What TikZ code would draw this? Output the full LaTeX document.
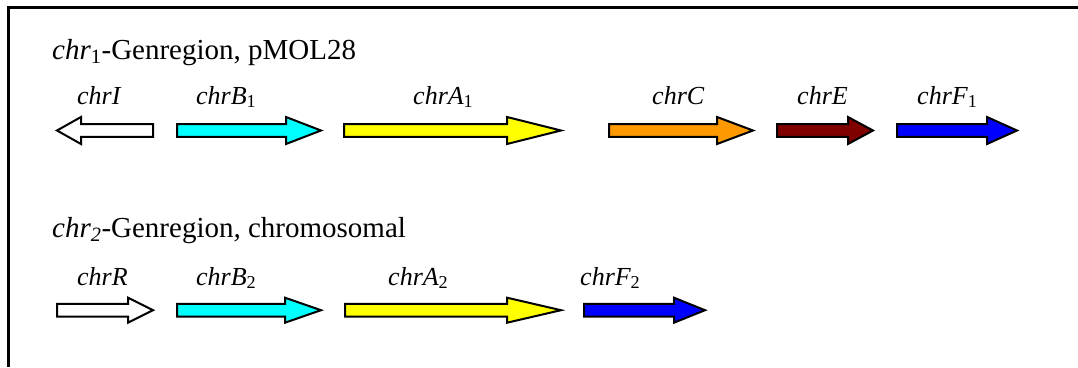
\documentclass[tikz,border=0pt]{standalone}
\usepackage{fontspec}
\setmainfont{Liberation Serif}
\definecolor{gcyan}{RGB}{0,255,255}
\definecolor{gyellow}{RGB}{255,255,0}
\definecolor{gorange}{RGB}{255,153,0}
\definecolor{gdred}{RGB}{128,0,0}
\definecolor{gblue}{RGB}{0,0,255}
\newcommand{\genearrow}[7]{% name, x-start, x-headbase, x-tip, y-centre, head half-height, colour
  \draw[genestyle, fill=#7] (#2,#5-6.3) -- (#3,#5-6.3) -- (#3,#5-#6) -- (#4,#5)
    -- (#3,#5+#6) -- (#3,#5+6.3) -- (#2,#5+6.3) -- cycle;
  \coordinate (#1) at (#2,#5);}
\begin{document}
\begin{tikzpicture}[x=1pt,y=-1pt,
  genestyle/.style={draw=black, line width=2pt, line join=miter},
  framestyle/.style={draw=black, line width=2.2pt},
  genelabel/.style={anchor=base west, inner sep=0pt, font=\fontsize{26}{30}\selectfont\itshape},
  heading/.style={anchor=base west, inner sep=0pt, font=\fontsize{29}{33}\selectfont}]
\useasboundingbox (0,0) rectangle (1078,367);
\coordinate (fTL) at (8.5,7.5);
\coordinate (fTR) at (1078,7.5);
\coordinate (fBL) at (8.5,367);
\draw[framestyle] (fTR) -- (fTL) -- (fBL);

% row 1
\node[heading] (h1) at (52,59) {\textit{chr}\textsubscript{1}-Genregion, pMOL28};
\node[genelabel] (lI) at (77,104) {chrI};
\node[genelabel] (lB1) at (196,104) {chrB\textsubscript{\upshape 1}};
\node[genelabel] (lA1) at (413,104) {chrA\textsubscript{\upshape 1}};
\node[genelabel] (lC) at (652,104) {chrC};
\node[genelabel] (lE) at (797,104) {chrE};
\node[genelabel] (lF1) at (917,104) {chrF\textsubscript{\upshape 1}};
\genearrow{gI}{153}{81}{57}{130.5}{13.5}{white}
\genearrow{gB1}{177}{286}{321}{130.5}{13.5}{gcyan}
\genearrow{gA1}{344}{507}{561}{130.5}{13.5}{gyellow}
\genearrow{gC}{609}{717}{753}{130.5}{13.5}{gorange}
\genearrow{gE}{777}{848}{873}{130.5}{13.5}{gdred}
\genearrow{gF1}{897}{987}{1017}{130.5}{13.5}{gblue}

% row 2
\node[heading] (h2) at (52,237) {\textit{chr\textsubscript{2}}-Genregion\textit{,} chromosomal};
\node[genelabel] (lR) at (77,285) {chrR};
\node[genelabel] (lB2) at (196,285) {chrB\textsubscript{\upshape 2}};
\node[genelabel] (lA2) at (388,285) {chrA\textsubscript{\upshape 2}};
\node[genelabel] (lF2) at (580,285) {chrF\textsubscript{\upshape 2}};
\genearrow{gR}{57}{128}{153}{310.2}{12.5}{white}
\genearrow{gB2}{177}{285}{321}{310.2}{12.5}{gcyan}
\genearrow{gA2}{345}{507}{561}{310.2}{12.5}{gyellow}
\genearrow{gF2}{584}{674}{705}{310.2}{12.5}{gblue}
\end{tikzpicture}
\end{document}
